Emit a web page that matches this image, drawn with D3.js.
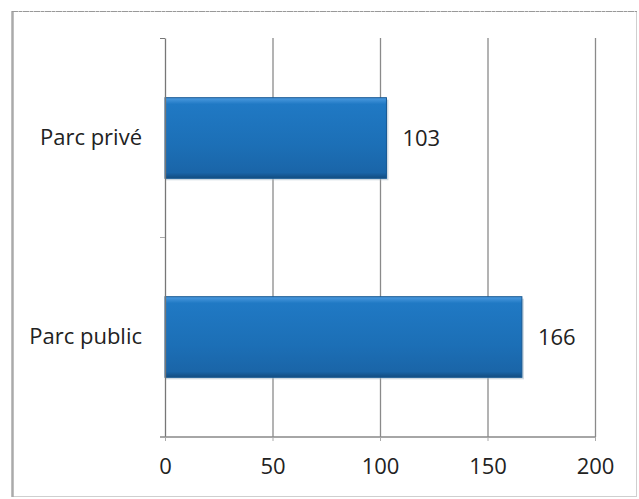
<!DOCTYPE html>
<html>
<head>
<meta charset="utf-8">
<script src="https://cdn.jsdelivr.net/npm/d3@7"></script>
<style>
  html, body { margin: 0; padding: 0; background: #fff; }
  svg { display: block; }
  text { font-family: "Open Sans", "Liberation Sans", sans-serif; fill: #222; }
</style>
</head>
<body>
<svg id="chart" width="639" height="499"></svg>
<script>
// Housing stock counts
const categories = ["Parc privé", "Parc public"];
const values = [103, 166];
const xTicks = [0, 50, 100, 150, 200];

const svg = d3.select("#chart");
const W = 639, H = 499;
const margin = { top: 38, right: 44, bottom: 62, left: 165 };
const iw = W - margin.left - margin.right;
const ih = H - margin.top - margin.bottom;
const FS = 22;

// outer frame
svg.append("rect")
  .attr("x", 12.5).attr("y", 11.5)
  .attr("width", 624).attr("height", 485)
  .attr("fill", "none").attr("stroke", "#cfcfcf").attr("stroke-width", 1);
svg.append("line")
  .attr("x1", 12.5).attr("x2", 12.5).attr("y1", 11).attr("y2", 497)
  .attr("stroke", "#aaa").attr("stroke-width", 2.5);
svg.append("line")
  .attr("x1", 12).attr("x2", 637).attr("y1", 11.5).attr("y2", 11.5)
  .attr("stroke", "#999").attr("stroke-width", 1).attr("stroke-dasharray", "6 1 3 1");

const defs = svg.append("defs");
const grad = defs.append("linearGradient")
  .attr("id", "barFill").attr("x1", 0).attr("y1", 0).attr("x2", 0).attr("y2", 1);
grad.append("stop").attr("offset", "0").attr("stop-color", "#4d9be0");
grad.append("stop").attr("offset", "0.08").attr("stop-color", "#2079c4");
grad.append("stop").attr("offset", "0.6").attr("stop-color", "#1c6fb6");
grad.append("stop").attr("offset", "0.93").attr("stop-color", "#1a65a8");
grad.append("stop").attr("offset", "1").attr("stop-color", "#124c80");

const g = svg.append("g").attr("transform", `translate(${margin.left},${margin.top})`);

const x = d3.scaleLinear().domain([0, 200]).range([0, iw]);
const y = d3.scaleBand().domain(categories).range([0, ih]).paddingInner(0.595).paddingOuter(0.3);

// vertical gridlines
g.selectAll(".grid").data(xTicks.slice(1)).join("line")
  .attr("x1", d => x(d) + 0.5).attr("x2", d => x(d) + 0.5)
  .attr("y1", 0).attr("y2", ih)
  .attr("stroke", "#8a8a8a").attr("stroke-width", 1.3);

// bars
const bars = g.selectAll(".bar").data(values).join("g");
bars.append("rect")
  .attr("x", 0).attr("y", (d, i) => y(categories[i]) + 2)
  .attr("width", d => x(d) + 2).attr("height", y.bandwidth())
  .attr("fill", "#9fb3c4").attr("opacity", 0.5);
bars.append("rect")
  .attr("x", 0).attr("y", (d, i) => y(categories[i]))
  .attr("width", d => x(d)).attr("height", y.bandwidth())
  .attr("fill", "url(#barFill)").attr("stroke", "#165892").attr("stroke-width", 1);

// value labels
g.selectAll(".val").data(values).join("text")
  .attr("x", d => x(d) + 16)
  .attr("y", (d, i) => y(categories[i]) + y.bandwidth() / 2)
  .attr("dy", "0.35em")
  .attr("font-size", FS)
  .text(d => d);

// category axis
const yAxis = g.append("g").call(d3.axisLeft(y).tickSize(0).tickPadding(23));
yAxis.select(".domain").attr("stroke", "#777").attr("stroke-width", 1.3);
yAxis.selectAll("text").attr("font-size", FS).style("font-family", "'Open Sans', sans-serif").attr("fill", "#222");
// tick between categories and at the top
g.append("line").attr("x1", -5).attr("x2", 0).attr("y1", ih / 2).attr("y2", ih / 2).attr("stroke", "#aaa");
g.append("line").attr("x1", -5).attr("x2", 0).attr("y1", 0.5).attr("y2", 0.5).attr("stroke", "#777");

// value axis
const xAxis = g.append("g").attr("transform", `translate(0,${ih})`)
  .call(d3.axisBottom(x).tickValues(xTicks).tickSize(4).tickPadding(17));
xAxis.select(".domain").attr("stroke", "#888").attr("stroke-width", 1.3).attr("d", `M-5,0H${iw}`);
xAxis.selectAll(".tick line").attr("stroke", "#aaa");
xAxis.selectAll("text").attr("font-size", FS).style("font-family", "'Open Sans', sans-serif").attr("fill", "#222");
</script>
</body>
</html>
